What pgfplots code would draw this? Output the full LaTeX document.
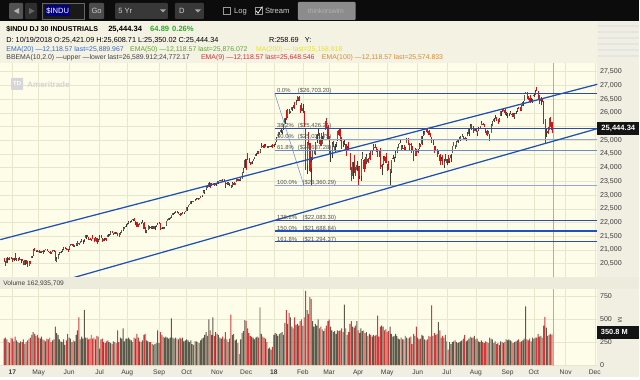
\documentclass[border=0pt]{standalone}
\usepackage{fontspec}
\setmainfont{Liberation Sans}
\usepackage{pgfplots}
\usepackage{pgfplotstable}
\pgfplotsset{compat=1.18}
\definecolor{tbbg}{HTML}{0C0C0C}
\definecolor{hdrbg}{HTML}{F4F2E3}
\definecolor{plotbg}{HTML}{FEFDE9}
\definecolor{gridc}{HTML}{E9E6CE}
\definecolor{colbg}{HTML}{F1EFE2}
\definecolor{sepbg}{HTML}{EDEBDC}
\definecolor{axtext}{HTML}{3C3C3C}
\definecolor{upw}{HTML}{3A3A32}
\definecolor{upb}{HTML}{5E5E54}
\definecolor{dnc}{HTML}{C81818}
\definecolor{upv}{HTML}{5A5A4A}
\definecolor{dnv}{HTML}{CF3A3A}
\definecolor{chan}{HTML}{2050B0}
\definecolor{fibd}{HTML}{2C4CA8}
\definecolor{fibl}{HTML}{93A6DA}
\definecolor{fibm}{HTML}{6C88CE}
\definecolor{fibb}{HTML}{1F50C4}
\definecolor{tanl}{HTML}{BFAE8C}
\definecolor{fibtxt}{HTML}{505050}
\definecolor{hblue}{HTML}{3468C8}
\definecolor{hgreen}{HTML}{5DA52A}
\definecolor{chg}{HTML}{22B022}
\definecolor{hyel}{HTML}{E8E41A}
\definecolor{hred}{HTML}{D32F2F}
\definecolor{horg}{HTML}{E0882A}
\definecolor{hgray}{HTML}{404048}
\definecolor{tbtxt}{HTML}{CFCFCF}
\newcommand{\hf}{\fontsize{6.9}{8}\selectfont}
\newcommand{\axf}{\fontsize{7.1}{8}\selectfont}
\newcommand{\mf}{\fontsize{6.7}{8}\selectfont}
\newcommand{\ff}{\fontsize{5.9}{7}\selectfont}
\newcommand{\tf}{\fontsize{7.6}{9}\selectfont}
\pgfplotstableread{
o h l c v
20660 20720 20560 20596 290
20560 20600 20412 20550 300
20540 20740 20520 20701 280
20690 20700 20630 20659 250
20660 20760 20650 20728 240
20720 20740 20660 20663 300
20665 20690 20560 20650 290
20640 20700 20610 20689 260
20700 20890 20640 20648 310
20640 20710 20600 20662 270
20660 20700 20580 20656 250
20660 20740 20630 20658 240
20640 20660 20520 20651 260
20650 20670 20580 20591 250
20590 20610 20450 20453 280
20470 20640 20460 20637 230
20610 20620 20480 20523 250
20540 20600 20390 20404 270
20420 20610 20410 20578 290
20580 20590 20500 20548 300
20720 20780 20700 20763 330
20800 21020 20790 20996 360
20990 21070 20960 20975 340
20980 21010 20940 20981 320
20990 21000 20930 20941 330
20960 20990 20900 20913 300
20920 20970 20900 20949 290
20940 20970 20880 20958 310
20970 20990 20870 20951 280
20960 21010 20920 21007 270
21010 21050 20990 21013 260
21020 21040 20960 20975 290
20960 20980 20910 20943 280
20930 20950 20850 20919 300
20910 20920 20860 20897 250
20920 20990 20910 20982 270
21000 21010 20930 20980 280
20960 20970 20600 20607 420
20580 20730 20550 20663 350
20680 20860 20670 20805 330
20830 20920 20810 20895 280
20900 20960 20880 20937 260
20950 21020 20920 21012 250
21030 21110 21010 21083 280
21080 21090 21040 21080 220
21070 21070 20990 21029 270
21030 21050 20940 21009 340
21030 21150 21010 21144 300
21150 21230 21130 21206 290
21200 21220 21160 21184 250
21180 21200 21120 21136 270
21150 21190 21090 21173 260
21180 21270 21150 21182 330
21190 21310 21140 21272 380
21260 21270 21190 21236 520
21250 21330 21240 21328 280
21350 21390 21290 21374 310
21340 21370 21230 21360 290
21370 21400 21300 21384 600
21420 21530 21410 21528 300
21520 21530 21460 21467 300
21470 21480 21380 21410 280
21410 21430 21360 21397 290
21400 21410 21340 21395 330
21420 21530 21390 21409 290
21410 21430 21300 21311 300
21330 21470 21320 21454 280
21440 21450 21200 21288 320
21310 21400 21280 21350 310
21370 21560 21360 21479 180
21480 21530 21420 21479 280
21440 21450 21300 21321 290
21340 21440 21330 21414 250
21410 21450 21380 21409 240
21410 21440 21310 21409 260
21470 21580 21460 21532 270
21540 21570 21510 21554 250
21560 21680 21550 21638 240
21640 21680 21610 21630 230
21600 21620 21530 21575 260
21590 21660 21580 21641 250
21650 21660 21570 21611 240
21590 21600 21510 21580 380
21580 21600 21480 21513 250
21560 21650 21550 21613 300
21630 21730 21620 21711 290
21740 21830 21700 21797 400
21770 21840 21750 21830 260
21850 21930 21840 21891 290
21910 21990 21900 21964 290
21990 22040 21930 22016 300
22010 22040 21980 22026 280
22040 22100 22010 22092 270
22100 22120 22070 22118 250
22110 22180 22040 22085 300
22040 22060 21920 22048 290
22020 22030 21840 21844 340
21860 21930 21820 21858 300
21920 22000 21910 21993 260
22000 22020 21960 21998 250
22000 22080 21990 22025 270
22000 22010 21750 21750 330
21740 21820 21600 21675 340
21670 21710 21600 21703 270
21730 21910 21720 21900 260
21870 21880 21780 21812 250
21830 21880 21770 21783 250
21810 21870 21780 21814 230
21830 21860 21780 21808 220
21750 21880 21710 21865 230
21860 21910 21840 21892 240
21910 21970 21900 21948 380
21960 22020 21950 21988 240
21970 21980 21710 21753 360
21780 21840 21760 21807 330
21810 21840 21750 21785 310
21780 21850 21770 21798 300
21900 22060 21890 22057 310
22070 22120 22050 22118 300
22110 22160 22090 22158 290
22140 22210 22130 22203 300
22200 22270 22180 22268 510
22290 22350 22280 22331 300
22340 22380 22320 22370 290
22370 22420 22330 22412 300
22400 22410 22340 22359 290
22340 22370 22310 22350 280
22320 22360 22230 22296 300
22310 22340 22270 22284 290
22320 22380 22300 22341 300
22330 22390 22320 22381 260
22390 22420 22370 22405 270
22430 22560 22420 22557 280
22570 22650 22560 22641 270
22650 22680 22630 22661 250
22670 22780 22660 22775 270
22760 22780 22730 22773 230
22780 22800 22740 22762 220
22790 22840 22780 22831 260
22840 22880 22820 22872 260
22890 22900 22820 22841 250
22860 22890 22840 22871 240
22900 22960 22880 22957 270
22960 23000 22930 22997 290
23070 23170 23060 23158 300
23120 23170 23030 23163 330
23210 23330 23200 23329 360
23360 23370 23260 23274 320
23300 23460 23290 23441 500
23420 23430 23250 23330 380
23370 23440 23340 23401 330
23410 23450 23370 23434 520
23420 23440 23340 23349 320
23370 23400 23330 23377 360
23440 23500 23420 23436 340
23440 23530 23400 23517 330
23520 23550 23500 23539 300
23540 23560 23510 23549 290
23570 23600 23520 23557 310
23550 23570 23510 23564 290
23480 23480 23250 23462 360
23440 23460 23380 23422 280
23400 23460 23370 23440 250
23410 23410 23320 23410 290
23370 23380 23240 23272 550
23320 23480 23310 23458 330
23450 23460 23350 23358 340
23370 23440 23350 23430 270
23480 23620 23470 23591 280
23590 23600 23510 23526 240
23550 23570 23530 23558 120
23570 23620 23520 23580 280
23600 23840 23590 23836 350
23850 23990 23820 23940 370
24000 24330 23990 24272 490
24250 24310 23920 24231 480
24400 24530 24280 24290 400
24300 24350 24160 24180 350
24170 24210 24110 24140 320
24130 24230 24120 24212 310
24260 24330 24250 24329 300
24340 24390 24300 24387 280
24420 24550 24410 24505 300
24530 24610 24510 24585 310
24600 24620 24500 24509 300
24570 24670 24550 24652 630
24730 24880 24720 24792 340
24800 24810 24720 24754 310
24800 24850 24700 24726 300
24760 24860 24750 24782 290
24770 24780 24720 24754 250
24720 24780 24700 24746 180
24750 24800 24740 24775 190
24790 24840 24770 24838 170
24850 24870 24710 24719 200
24810 24865 24740 24824 330
24850 24940 24830 24922 350
24960 25110 24950 25075 340
25110 25300 25100 25295 320
25310 25310 25200 25283 340
25310 25400 25250 25385 350
25300 25370 25220 25369 360
25400 25580 25390 25574 330
25630 25810 25600 25803 460
25990 26090 25730 25792 600
25850 26150 25820 26115 450
26130 26150 25960 26017 570
26030 26080 25980 26071 520
26090 26220 26050 26214 420
26250 26280 26170 26210 400
26300 26390 26140 26252 520
26300 26460 26290 26392 440
26480 26620 26440 26617 450
26570 26610 26430 26440 430
26280 26300 26000 26076 480
26150 26340 26060 26149 500
26080 26310 26000 26186 430
26060 26060 25490 25521 520
25340 25440 23920 24346 810
24090 24950 23780 24913 600
24900 25290 24820 24893 560
24880 24900 23850 23860 740
23990 24380 23360 24191 720
24300 24640 24290 24601 480
24500 24660 24490 24640 420
24540 24920 24460 24893 450
25000 25210 24900 25201 430
25170 25430 25150 25219 500
25170 25250 24870 24965 400
24990 25280 24780 24798 420
24870 25140 24870 24963 390
25050 25310 25030 25310 370
25390 25710 25390 25710 400
25720 25800 25400 25410 430
25480 25560 25020 25029 480
25020 25170 24500 24608 500
24500 24610 24210 24538 420
24520 24920 24340 24875 380
24940 24980 24740 24885 360
24660 24850 24530 24801 370
24860 24930 24750 24896 340
24990 25340 24980 25336 380
25380 25450 25140 25179 370
25240 25450 24960 25008 380
25090 25110 24690 24759 400
24810 24970 24740 24874 360
24880 25000 24830 24947 660
24860 24870 24420 24611 400
24630 24800 24610 24727 330
24710 24950 24660 24683 360
24520 24540 23920 23958 450
23910 24030 23510 23533 480
23700 24210 23580 24202 420
24300 24460 23800 23857 410
23870 24040 23710 23849 430
23900 24240 23880 24103 480
24000 24060 23340 23644 380
23700 24050 23590 24034 350
23690 24310 23520 24265 400
24330 24580 24300 24505 370
24280 24330 23850 23933 380
24030 24390 23960 23979 350
24200 24480 24140 24408 360
24300 24360 24170 24190 320
24320 24550 24300 24484 340
24530 24640 24280 24360 330
24480 24620 24450 24573 310
24700 24860 24650 24787 330
24760 24860 24720 24748 320
24690 24770 24560 24665 330
24650 24680 24400 24463 540
24480 24620 24380 24448 310
24560 24700 23950 24024 420
24020 24120 23720 24084 430
24130 24410 24110 24322 420
24340 24420 24260 24311 380
24370 24540 24160 24163 390
24120 24130 23860 24100 360
24080 24230 23910 23925 370
23850 23950 23340 23930 420
23860 24290 23790 24263 340
24320 24470 24300 24358 310
24340 24400 24190 24361 320
24390 24600 24340 24543 340
24560 24760 24550 24740 320
24740 24850 24700 24831 290
24890 25020 24880 24900 280
24820 24830 24610 24706 300
24690 24830 24680 24769 280
24730 24810 24600 24714 280
24700 24760 24660 24715 320
24880 25090 24880 25013 300
25050 25090 24830 24835 290
24720 24890 24630 24887 300
24850 24880 24550 24812 310
24790 24800 24660 24753 230
24590 24650 24240 24362 340
24450 24700 24440 24667 320
24620 24680 24410 24416 420
24560 24690 24550 24635 300
24700 24880 24690 24814 280
24810 24870 24750 24799 290
24850 25150 24840 25146 330
25180 25330 25160 25242 320
25200 25320 25190 25317 280
25330 25400 25310 25322 270
25340 25400 25280 25320 280
25330 25390 25190 25202 320
25240 25260 25100 25175 310
25110 25110 24900 25090 650
24930 25010 24810 24988 320
24780 24790 24550 24701 350
24720 24800 24620 24658 330
24640 24690 24400 24462 340
24520 24660 24490 24581 470
24460 24480 24080 24253 380
24280 24390 24250 24284 300
24320 24470 24110 24117 320
24090 24300 23970 24216 300
24310 24510 24240 24271 330
24160 24310 24080 24307 260
24380 24470 24170 24175 170
24240 24360 24180 24357 250
24350 24490 24210 24456 230
24520 24790 24520 24776 250
24800 24940 24790 24920 260
24790 24820 24690 24700 270
24770 24960 24760 24925 250
24930 25050 24890 25019 240
25020 25100 25000 25064 250
25020 25150 24980 25120 260
25130 25220 25110 25199 270
25160 25170 24990 25065 290
25060 25130 24990 25058 330
25010 25090 24960 25044 260
25160 25300 25140 25242 270
25240 25420 25170 25415 290
25420 25600 25410 25528 310
25550 25590 25390 25451 300
25460 25510 25280 25307 300
25330 25460 25320 25415 320
25420 25460 25300 25333 280
25270 25340 25150 25327 290
25360 25490 25340 25463 260
25460 25520 25420 25502 250
25550 25690 25540 25629 270
25600 25640 25560 25583 250
25580 25600 25490 25509 240
25440 25450 25250 25313 260
25320 25370 25170 25188 250
25230 25340 25220 25300 240
25230 25230 24970 25163 300
25280 25590 25270 25559 290
25520 25710 25500 25669 280
25690 25800 25680 25759 240
25770 25930 25760 25822 260
25800 25830 25710 25733 230
25720 25760 25600 25656 240
25690 25810 25680 25790 220
25900 26070 25880 26050 260
26080 26130 26020 26064 250
26080 26170 26050 26125 240
26100 26120 25930 25987 250
25960 26020 25900 25965 280
25920 25980 25800 25952 270
25940 26000 25870 25975 280
25990 26050 25940 25996 270
25950 26000 25860 25917 260
25960 25990 25840 25857 240
25860 25990 25780 25972 250
25960 26060 25940 25999 260
26060 26170 26040 26145 270
26160 26200 26120 26155 280
26160 26200 26050 26062 250
26100 26270 26080 26247 260
26260 26430 26250 26406 270
26440 26660 26430 26657 290
26680 26770 26680 26744 640
26730 26740 26490 26562 280
26580 26620 26470 26492 270
26520 26660 26370 26385 290
26420 26540 26400 26440 260
26400 26490 26370 26458 300
26600 26700 26590 26651 290
26650 26830 26630 26774 300
26830 26950 26790 26828 300
26800 26810 26510 26627 340
26620 26650 26320 26447 310
26430 26580 26280 26487 320
26480 26540 26380 26431 300
26420 26430 25590 25599 430
25560 25790 24900 25053 525
25300 25430 25100 25340 410
25330 25470 25230 25251 320
25370 25820 25370 25798 330
25760 25830 25480 25706 340
25660 25680 25260 25380 330
25421 25609 25350 25444 351
}\data
\begin{document}
\begin{tikzpicture}[x=1pt,y=1pt]
% backgrounds
\fill[hdrbg] (0pt,0pt) rectangle (640pt,378pt);
\fill[tbbg] (0pt,357pt) rectangle (640pt,378pt);
\fill[colbg] (598pt,0pt) rectangle (640pt,357pt);
\foreach \yy in {352,346,340,334,328,322} {\draw[color=black!10, line width=1.4pt] (599pt,\yy pt) -- (640pt,\yy pt);}
\fill[sepbg] (0pt,89pt) rectangle (640pt,101pt);
\fill[colbg] (0pt,0pt) rectangle (640pt,11pt);
% price panel
\begin{axis}[name=price, at={(0pt,101pt)}, anchor=south west, scale only axis,
  width=598pt, height=214pt,
  xmin=-197.8, xmax=233.9, ymin=20029, ymax=27817,
  axis background/.style={fill=plotbg},
  axis line style={draw=none}, tick style={draw=none},
  xtick={-189,-170,-148,-126,-106,-83,-63,-41,-20,0,21,40,61,82,104,125,146,169,188,211,232},
  xticklabels={},
  ytick={20500,21000,21500,22000,22500,23000,23500,24000,24500,25000,26000,26500,27000,27500},
  extra y ticks={25500}, extra y tick labels={},
  extra y tick style={grid=major},
  yticklabel pos=right, scaled y ticks=false,
  yticklabel style={font=\axf, text=axtext, anchor=west, inner sep=0pt, xshift=2.5pt,
    /pgf/number format/fixed, /pgf/number format/1000 sep={,},
    /pgf/number format/assume math mode=true},
  grid=major, major grid style={draw=gridc, line width=0.45pt},
  clip=true]
% wicks up
\addplot[forget plot, mark=none, draw=upw, line width=0.35pt, restrict y to domain=0:50000,
  quiver={u=0, v=\thisrow{h}-\thisrow{l}}]
  table[x expr=\coordindex-195, y expr={\thisrow{l}+100000*(\thisrow{c}<\thisrow{o})}] {\data};
% bodies up
\addplot[forget plot, mark=none, draw=upb, line width=0.8pt, restrict y to domain=0:50000,
  quiver={u=0, v={max(abs(\thisrow{c}-\thisrow{o}),20)}}]
  table[x expr=\coordindex-195, y expr={min(\thisrow{o},\thisrow{c})+100000*(\thisrow{c}<\thisrow{o})}] {\data};
% wicks down
\addplot[forget plot, mark=none, draw=dnc, line width=0.35pt, restrict y to domain=0:50000,
  quiver={u=0, v=\thisrow{h}-\thisrow{l}}]
  table[x expr=\coordindex-195, y expr={\thisrow{l}+100000*(1-(\thisrow{c}<\thisrow{o}))}] {\data};
% bodies down
\addplot[forget plot, mark=none, draw=dnc, line width=0.8pt, restrict y to domain=0:50000,
  quiver={u=0, v={max(abs(\thisrow{c}-\thisrow{o}),20)}}]
  table[x expr=\coordindex-195, y expr={min(\thisrow{o},\thisrow{c})+100000*(1-(\thisrow{c}<\thisrow{o}))}] {\data};
% current bar line
\addplot[tanl, line width=0.6pt, forget plot] coordinates {(202,20029) (202,27817)};
% fibonacci
\addplot[fibd, line width=1.2pt, forget plot] coordinates {(0.7,26703.20) (233.9,26703.20)};
\addplot[fibd, line width=0.8pt, forget plot] coordinates {(0.7,25426.21) (233.9,25426.21)};
\addplot[fibl, line width=1.2pt, forget plot] coordinates {(0.7,25031.75) (233.9,25031.75)};
\addplot[fibm, line width=0.9pt, forget plot] coordinates {(0.7,24637.28) (233.9,24637.28)};
\addplot[fibl, line width=1.3pt, forget plot] coordinates {(0.7,23360.29) (233.9,23360.29)};
\addplot[fibd, line width=0.9pt, forget plot] coordinates {(0.7,22083.30) (233.9,22083.30)};
\addplot[fibb, line width=1.3pt, forget plot] coordinates {(0.7,21688.84) (233.9,21688.84)};
\addplot[fibd, line width=0.9pt, forget plot] coordinates {(0.7,21294.37) (233.9,21294.37)};
\addplot[fibm, line width=0.5pt, forget plot] coordinates {(0.7,26703.20) (21.7,23360.29)};
% channel
\addplot[chan, line width=1.25pt, forget plot] coordinates {(-197.8,21376) (233.9,27038)};
\addplot[chan, line width=1.25pt, forget plot] coordinates {(-160,19774) (233.9,25422)};
% fib labels
\node[anchor=base west, inner sep=0pt, font=\ff, text=fibtxt] at (axis cs:2.2,26730) {0.0\%};
\node[anchor=base west, inner sep=0pt, font=\ff, text=fibtxt] at (axis cs:17.3,26730) {(\$26,703.20)};
\node[anchor=base west, inner sep=0pt, font=\ff, text=fibtxt] at (axis cs:2.2,25453) {38.2\%};
\node[anchor=base west, inner sep=0pt, font=\ff, text=fibtxt] at (axis cs:17.3,25453) {(\$25,426.21)};
\node[anchor=base west, inner sep=0pt, font=\ff, text=fibtxt] at (axis cs:2.2,25058) {50.0\%};
\node[anchor=base west, inner sep=0pt, font=\ff, text=fibtxt] at (axis cs:17.3,25058) {(\$25,031.75)};
\node[anchor=base west, inner sep=0pt, font=\ff, text=fibtxt] at (axis cs:2.2,24664) {61.8\%};
\node[anchor=base west, inner sep=0pt, font=\ff, text=fibtxt] at (axis cs:17.3,24664) {(\$24,637.28)};
\node[anchor=base west, inner sep=0pt, font=\ff, text=fibtxt] at (axis cs:2.2,23387) {100.0\%};
\node[anchor=base west, inner sep=0pt, font=\ff, text=fibtxt] at (axis cs:20.7,23387) {(\$23,360.29)};
\node[anchor=base west, inner sep=0pt, font=\ff, text=fibtxt] at (axis cs:2.2,22110) {138.2\%};
\node[anchor=base west, inner sep=0pt, font=\ff, text=fibtxt] at (axis cs:20.7,22110) {(\$22,083.30)};
\node[anchor=base west, inner sep=0pt, font=\ff, text=fibtxt] at (axis cs:2.2,21715) {150.0\%};
\node[anchor=base west, inner sep=0pt, font=\ff, text=fibtxt] at (axis cs:20.7,21715) {(\$21,688.84)};
\node[anchor=base west, inner sep=0pt, font=\ff, text=fibtxt] at (axis cs:2.2,21321) {161.8\%};
\node[anchor=base west, inner sep=0pt, font=\ff, text=fibtxt] at (axis cs:20.7,21321) {(\$21,294.37)};
\end{axis}
% volume panel
\begin{axis}[name=vol, at={(0pt,11pt)}, anchor=south west, scale only axis,
  width=598pt, height=78pt,
  xmin=-197.8, xmax=233.9, ymin=-14, ymax=834,
  axis background/.style={fill=plotbg},
  axis line style={draw=none}, tick style={draw=none},
  xtick={-189,-170,-148,-126,-106,-83,-63,-41,-20,0,21,40,61,82,104,125,146,169,188,211,232},
  xticklabels={\textbf{17},May,Jun,Jul,Aug,Sep,Oct,Nov,Dec,\textbf{18},Feb,Mar,Apr,May,Jun,Jul,Aug,Sep,Oct,Nov,Dec},
  xticklabel style={font=\mf, text=axtext},
  ytick={0,250,500,750},
  yticklabel pos=right, scaled y ticks=false,
  yticklabel style={font=\axf, text=axtext, anchor=west, inner sep=0pt, xshift=2.5pt,
    /pgf/number format/assume math mode=true},
  grid=major, major grid style={draw=gridc, line width=0.45pt},
  clip=true]
\addplot[ybar, bar width=0.7, bar shift=0pt, fill=upv, draw=none, forget plot,
  restrict y to domain=-1:5000]
  table[x expr=\coordindex-195, y expr={\thisrow{v}+100000*(\thisrow{c}<\thisrow{o})}] {\data};
\addplot[ybar, bar width=0.7, bar shift=0pt, fill=dnv, draw=none, forget plot,
  restrict y to domain=-1:5000]
  table[x expr=\coordindex-195, y expr={\thisrow{v}+100000*(1-(\thisrow{c}<\thisrow{o}))}] {\data};
\addplot[tanl, line width=0.6pt, forget plot] coordinates {(202,-14) (202,834)};
\end{axis}
% right-side value boxes
\fill[black!92] (598pt,242.5pt) rectangle (640pt,256pt);
\node[text=white, font=\fontsize{7.6}{9}\selectfont\bfseries, inner sep=0pt] at (619pt,249.3pt) {25,444.34};
\fill[black!92] (598pt,39pt) rectangle (640pt,51.5pt);
\node[text=white, font=\fontsize{7.4}{9}\selectfont\bfseries, inner sep=0pt] at (615pt,45.3pt) {350.8 M};
\node[text=axtext, font=\fontsize{6}{7}\selectfont, rotate=-90, inner sep=0pt] at (620.5pt,58pt) {M};
% volume title
\node[anchor=base west, inner sep=0pt, font=\fontsize{6.6}{8}\selectfont, text=axtext] at (3pt,91.7pt) {Volume 162,935,709};
% watermark
\fill[black!16, rounded corners=0.8pt] (11pt,288pt) rectangle (23pt,300pt);
\node[text=white, font=\fontsize{6}{7}\selectfont\bfseries, inner sep=0pt] at (17pt,294pt) {TD};
\node[anchor=base west, inner sep=0pt, text=black!17, font=\fontsize{8}{9}\selectfont\bfseries] at (27pt,290.5pt) {Ameritrade};
% header lines
\node[anchor=base west, inner sep=0pt, font=\fontsize{7.1}{8}\selectfont\bfseries] at (6pt,346.5pt) {\$INDU DJ 30 INDUSTRIALS};
\node[anchor=base west, inner sep=0pt, font=\fontsize{7.6}{8}\selectfont\bfseries] at (108pt,346.5pt) {25,444.34};
\node[anchor=base west, inner sep=0pt, font=\fontsize{7.6}{8}\selectfont\bfseries, text=chg] at (150pt,346.5pt) {64.89};
\node[anchor=base west, inner sep=0pt, font=\fontsize{7.6}{8}\selectfont\bfseries, text=chg] at (172pt,346.5pt) {0.26\%};
\node[anchor=base west, inner sep=0pt, font=\fontsize{7.3}{8}\selectfont] at (6pt,335pt) {D: 10/19/2018 O:25,421.09 H:25,608.71 L:25,350.02 C:25,444.34};
\node[anchor=base west, inner sep=0pt, font=\fontsize{7.3}{8}\selectfont] at (269pt,335pt) {R:258.69};
\node[anchor=base west, inner sep=0pt, font=\fontsize{7.3}{8}\selectfont] at (305pt,335pt) {Y:};
\node[anchor=base west, inner sep=0pt, font=\hf, text=hblue] at (6pt,326.5pt) {EMA(20) —12,118.57 last=25,889.967};
\node[anchor=base west, inner sep=0pt, font=\hf, text=hgreen] at (130pt,326.5pt) {EMA(50) —12,118.57 last=25,876.072};
\node[anchor=base west, inner sep=0pt, font=\hf, text=hyel] at (256pt,326.5pt) {MA(200) — last=25,158.918};
\node[anchor=base west, inner sep=0pt, font=\fontsize{6.9}{8}\selectfont, text=hgray] at (6pt,318.5pt) {BBEMA(10,2.0) —upper —lower last=26,589.912;24,772.17};
\node[anchor=base west, inner sep=0pt, font=\hf, text=hred] at (201pt,318.5pt) {EMA(9) —12,118.57 last=25,648.546};
\node[anchor=base west, inner sep=0pt, font=\hf, text=horg] at (322pt,318.5pt) {EMA(100) —12,118.57 last=25,574.833};
% toolbar
\fill[black!68, rounded corners=1pt] (9pt,359pt) rectangle (23pt,375pt);
\fill[black!30] (19pt,370pt) -- (19pt,364pt) -- (13.5pt,367pt) -- cycle;
\fill[black!82, rounded corners=1pt] (25pt,359pt) rectangle (37pt,375pt);
\fill[black!60] (29pt,370pt) -- (29pt,364pt) -- (34.5pt,367pt) -- cycle;
\fill[black!90] (42pt,359pt) rectangle (84pt,375pt);
\draw[black!60, line width=0.5pt] (42pt,359pt) rectangle (84pt,375pt);
\fill[blue!50!black] (45pt,361.5pt) rectangle (70pt,372.5pt);
\node[anchor=base west, inner sep=0pt, text=white, font=\tf] at (46pt,364pt) {\$INDU};
\fill[black!70, rounded corners=1pt] (89pt,359pt) rectangle (104pt,375pt);
\node[anchor=base, inner sep=0pt, text=tbtxt, font=\tf] at (96.5pt,364pt) {Go};
\fill[black!78, rounded corners=1pt] (115pt,359pt) rectangle (168pt,375pt);
\node[anchor=base west, inner sep=0pt, text=tbtxt, font=\tf] at (118pt,364pt) {5 Yr};
\fill[black!35] (160pt,368.5pt) -- (166pt,368.5pt) -- (163pt,365.5pt) -- cycle;
\fill[black!78, rounded corners=1pt] (175pt,359pt) rectangle (204pt,375pt);
\node[anchor=base west, inner sep=0pt, text=tbtxt, font=\tf] at (179pt,364pt) {D};
\fill[black!35] (195pt,368.5pt) -- (201pt,368.5pt) -- (198pt,365.5pt) -- cycle;
\draw[black!40, line width=0.5pt] (223pt,363.5pt) rectangle (230pt,370.5pt);
\node[anchor=base west, inner sep=0pt, text=tbtxt, font=\tf] at (234pt,364pt) {Log};
\draw[black!40, line width=0.5pt] (255pt,363.5pt) rectangle (262pt,370.5pt);
\draw[white, line width=0.7pt] (256.2pt,367.2pt) -- (258.2pt,364.8pt) -- (262.5pt,371.5pt);
\node[anchor=base west, inner sep=0pt, text=tbtxt, font=\tf] at (265pt,364pt) {Stream};
\fill[black!45, rounded corners=1pt] (298pt,358pt) rectangle (356pt,376pt);
\node[anchor=base west, inner sep=0pt, text=black!30, font=\fontsize{6.8}{8}\selectfont] at (308pt,364pt) {thinkorswim};
\end{tikzpicture}
\end{document}
